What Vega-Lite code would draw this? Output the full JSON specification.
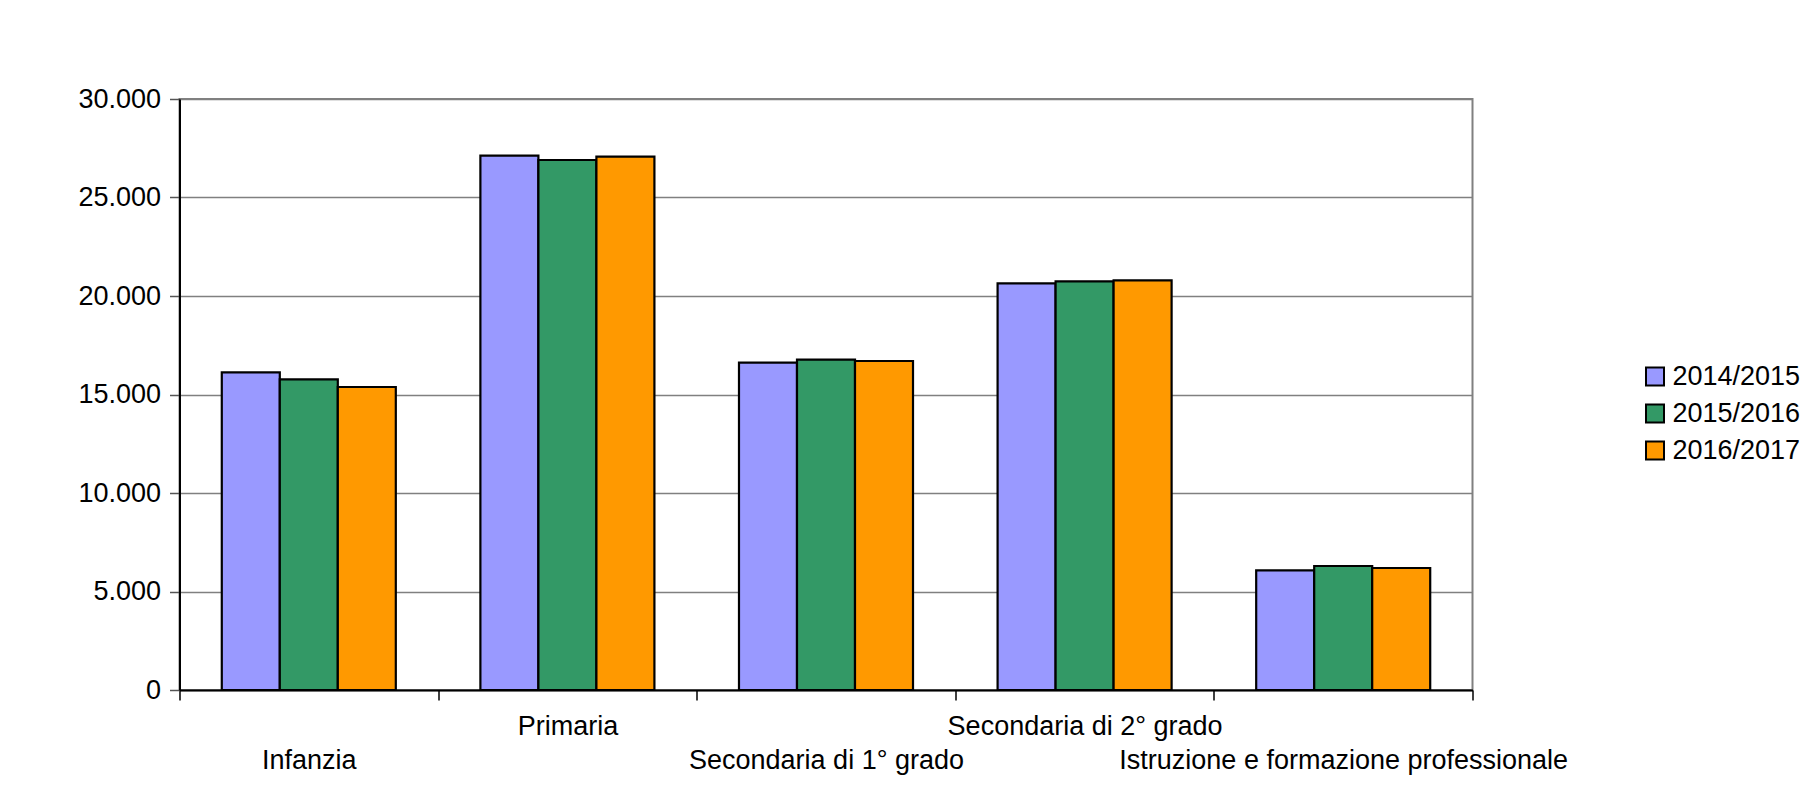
{
  "$schema": "https://vega.github.io/schema/vega-lite/v6.json",
  "autosize": "none",
  "padding": {"left": 179.5, "top": 99, "right": 345.5, "bottom": 119},
  "width": 1293,
  "height": 591,
  "background": "white",
  "config": {
    "font": "Liberation Sans",
    "view": {"stroke": "#808080", "strokeWidth": 2},
    "axis": {"labelFont": "Liberation Sans", "labelFontSize": 27, "labelColor": "black"}
  },
  "data": {
    "values": [
      {"livello": "Infanzia", "anno": "2014/2015", "valore": 16127},
      {"livello": "Infanzia", "anno": "2015/2016", "valore": 15770},
      {"livello": "Infanzia", "anno": "2016/2017", "valore": 15380},
      {"livello": "Primaria", "anno": "2014/2015", "valore": 27122},
      {"livello": "Primaria", "anno": "2015/2016", "valore": 26904},
      {"livello": "Primaria", "anno": "2016/2017", "valore": 27071},
      {"livello": "Secondaria di 1° grado", "anno": "2014/2015", "valore": 16614},
      {"livello": "Secondaria di 1° grado", "anno": "2015/2016", "valore": 16767},
      {"livello": "Secondaria di 1° grado", "anno": "2016/2017", "valore": 16701},
      {"livello": "Secondaria di 2° grado", "anno": "2014/2015", "valore": 20645},
      {"livello": "Secondaria di 2° grado", "anno": "2015/2016", "valore": 20740},
      {"livello": "Secondaria di 2° grado", "anno": "2016/2017", "valore": 20795},
      {"livello": "Istruzione e formazione professionale", "anno": "2014/2015", "valore": 6076},
      {"livello": "Istruzione e formazione professionale", "anno": "2015/2016", "valore": 6294},
      {"livello": "Istruzione e formazione professionale", "anno": "2016/2017", "valore": 6193}
    ]
  },
  "mark": {"type": "bar", "stroke": "black", "strokeWidth": 2.2},
  "encoding": {
    "x": {
      "field": "livello",
      "type": "nominal",
      "sort": null,
      "scale": {"paddingInner": 0, "paddingOuter": 0},
      "axis": {
        "title": null,
        "labelAngle": 0,
        "labelLimit": 0,
        "tickBand": "extent",
        "domainColor": "black",
        "domainWidth": 2,
        "tickColor": "black",
        "tickWidth": 1.5,
        "tickSize": 10,
        "labelPadding": 13,
        "labelLineHeight": 34,
        "labelBaseline": "top",
        "labelExpr": "indexof(['Primaria', 'Secondaria di 2° grado'], datum.value) >= 0 ? datum.label : ['', datum.label]"
      }
    },
    "xOffset": {
      "field": "anno",
      "type": "nominal",
      "scale": {"paddingInner": 0, "paddingOuter": 0.729}
    },
    "y": {
      "field": "valore",
      "type": "quantitative",
      "scale": {"domain": [0, 30000], "nice": false},
      "axis": {
        "title": null,
        "values": [0, 5000, 10000, 15000, 20000, 25000, 30000],
        "labelExpr": "replace(format(datum.value, ','), ',', '.')",
        "grid": true,
        "gridColor": "#808080",
        "gridWidth": 1.5,
        "domainColor": "black",
        "domainWidth": 2,
        "tickColor": "#555555",
        "tickWidth": 1.5,
        "tickSize": 10,
        "labelPadding": 9
      }
    },
    "color": {
      "field": "anno",
      "type": "nominal",
      "scale": {"domain": ["2014/2015", "2015/2016", "2016/2017"], "range": ["#9999FF", "#339966", "#FF9900"]},
      "legend": {
        "title": null,
        "orient": "none",
        "legendX": 1462,
        "legendY": 264,
        "symbolType": "square",
        "symbolSize": 324,
        "symbolStrokeColor": "black",
        "symbolStrokeWidth": 2,
        "symbolOpacity": 1,
        "labelFont": "Liberation Sans",
        "labelFontSize": 27,
        "labelColor": "black",
        "labelOffset": 4,
        "rowPadding": 9,
        "padding": 0
      }
    }
  }
}
